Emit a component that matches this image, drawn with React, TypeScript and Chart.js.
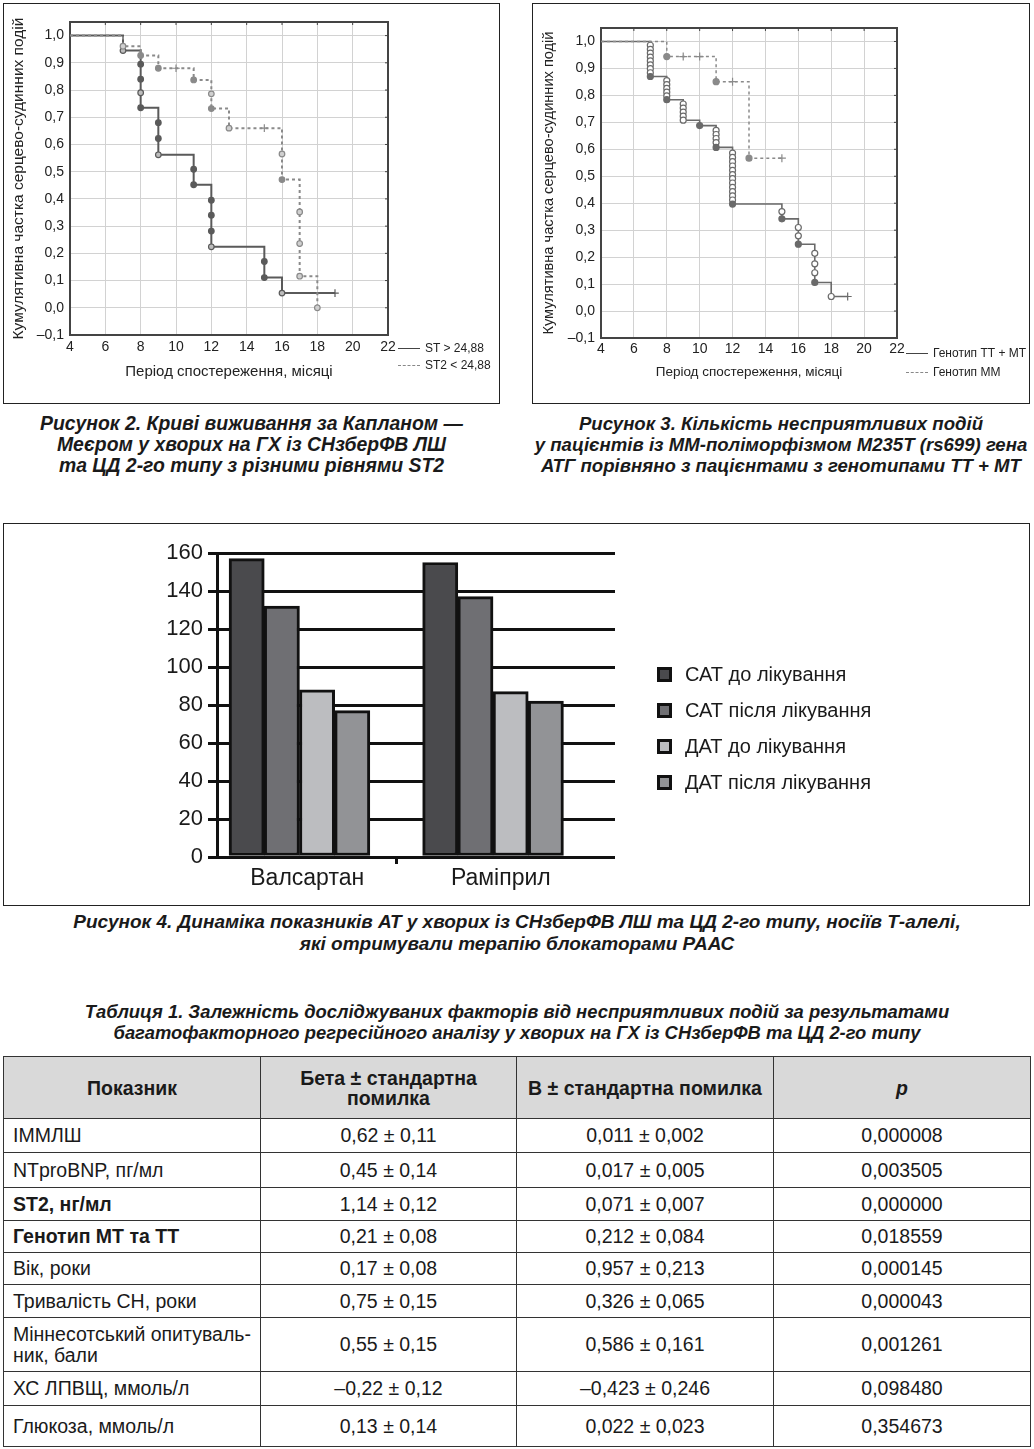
import React, { useEffect, useRef } from 'react';
import { Chart, registerables } from 'chart.js';

Chart.register(...registerables);

const FONT = '"Liberation Sans", Arial, Helvetica, sans-serif';

// ---------------- Figure 2 data ----------------
const kmXTicks = [4, 6, 8, 10, 12, 14, 16, 18, 20, 22];
const kmYTicks = [-0.1, 0, 0.1, 0.2, 0.3, 0.4, 0.5, 0.6, 0.7, 0.8, 0.9, 1.0];
const kmYTitle = 'Кумулятивна частка серцево-судинних подій';
const kmXTitle = 'Період спостереження, місяці';

const fig2HighLabel = 'ST > 24,88';
const fig2HighTimes = [4, 7, 8, 8, 8, 8, 9, 9, 9, 11, 11, 12, 12, 12, 12, 15, 15, 16, 19];
const fig2HighSurv = [1.0, 0.945, 0.895, 0.84, 0.79, 0.735, 0.68, 0.622, 0.562, 0.509, 0.452, 0.395, 0.34, 0.282, 0.224, 0.17, 0.111, 0.054, 0.054];
const fig2HighMarks = ['', 'o', 'f', 'f', 'o', 'f', 'f', 'f', 'o', 'f', 'f', 'f', 'f', 'f', 'o', 'f', 'f', 'o', '+'];

const fig2LowLabel = 'ST2 < 24,88';
const fig2LowTimes = [4, 7, 8, 9, 10, 11, 12, 12, 13, 15, 16, 16, 17, 17, 17, 18];
const fig2LowSurv = [1.0, 0.961, 0.927, 0.88, 0.88, 0.837, 0.786, 0.732, 0.66, 0.66, 0.565, 0.471, 0.352, 0.236, 0.116, 0.0];
const fig2LowMarks = ['', 'o', 'f', 'f', '+', 'f', 'o', 'f', 'o', '+', 'o', 'f', 'o', 'o', 'o', 'o'];

// ---------------- Figure 3 data ----------------
const fig3TTLabel = 'Генотип ТТ + МТ';
const fig3TTTimes = [
  4,
  7, 7, 7, 7, 7, 7, 7, 7, 7,
  8, 8, 8, 8, 8, 8,
  9, 9, 9, 9, 9,
  10,
  11, 11, 11, 11, 11,
  12, 12, 12, 12, 12, 12, 12, 12, 12, 12, 12, 12, 12,
  15, 15,
  16, 16, 16,
  17, 17, 17, 17,
  18, 19,
];
const fig3TTSurv = [
  1.0,
  0.986, 0.971, 0.957, 0.942, 0.928, 0.913, 0.899, 0.884, 0.87,
  0.855, 0.84, 0.826, 0.812, 0.798, 0.784,
  0.768, 0.753, 0.738, 0.723, 0.708,
  0.688,
  0.67, 0.655, 0.64, 0.625, 0.607,
  0.586, 0.57, 0.554, 0.538, 0.522, 0.506, 0.491, 0.475, 0.459, 0.443, 0.427, 0.412, 0.397,
  0.369, 0.342,
  0.31, 0.279, 0.248,
  0.214, 0.175, 0.142, 0.106,
  0.054, 0.054,
];
const fig3TTMarks = [
  '',
  'o', 'o', 'o', 'o', 'o', 'o', 'o', 'o', 'f',
  'o', 'o', 'o', 'o', 'o', 'f',
  'o', 'o', 'o', 'o', 'o',
  'f',
  'o', 'o', 'o', 'o', 'f',
  'o', 'o', 'o', 'o', 'o', 'o', 'o', 'o', 'o', 'o', 'o', 'o', 'f',
  'o', 'f',
  'o', 'o', 'f',
  'o', 'o', 'o', 'f',
  'o', '+',
];

const fig3MMLabel = 'Генотип ММ';
const fig3MMTimes = [4, 8, 9, 10, 11, 12, 13, 15];
const fig3MMSurv = [1.0, 0.944, 0.944, 0.944, 0.851, 0.851, 0.567, 0.567];
const fig3MMMarks = ['', 'f', '+', '+', 'f', '+', 'f', '+'];

// ---------------- Figure 4 data ----------------
const barCategories = ['Валсартан', 'Раміприл'];
const barSeriesLabels = ['САТ до лікування', 'САТ після лікування', 'ДАТ до лікування', 'ДАТ після лікування'];
const sbpBefore = [157, 155];
const sbpAfter = [132, 137];
const dbpBefore = [88, 87];
const dbpAfter = [77, 82];
const barYTicks = [0, 20, 40, 60, 80, 100, 120, 140, 160];
const barColors = ['#4a4a4d', '#6f6f73', '#bcbdc0', '#929396'];

// ---------------- Table data ----------------
const tableHeader = ['Показник', 'Бета ± стандартна\nпомилка', 'B ± стандартна помилка', 'p'];
const tableFactors = ['ІММЛШ', 'NTproBNP, пг/мл', 'ST2, нг/мл', 'Генотип МТ та ТТ', 'Вік, роки', 'Тривалість СН, роки', 'Міннесотський опитуваль-\nник, бали', 'ХС ЛПВЩ, ммоль/л', 'Глюкоза, ммоль/л'];
const tableBeta = ['0,62 ± 0,11', '0,45 ± 0,14', '1,14 ± 0,12', '0,21 ± 0,08', '0,17 ± 0,08', '0,75 ± 0,15', '0,55 ± 0,15', '–0,22 ± 0,12', '0,13 ± 0,14'];
const tableB = ['0,011 ± 0,002', '0,017 ± 0,005', '0,071 ± 0,007', '0,212 ± 0,084', '0,957 ± 0,213', '0,326 ± 0,065', '0,586 ± 0,161', '–0,423 ± 0,246', '0,022 ± 0,023'];
const tableP = ['0,000008', '0,003505', '0,000000', '0,018559', '0,000145', '0,000043', '0,001261', '0,098480', '0,354673'];
const tableBold = [false, false, true, true, false, false, false, false, false];
const tableRowHeights = [34, 35, 33, 32, 32, 33, 54, 34, 41];

// ---------------- KM chart ----------------
type KMSeries = { times: number[]; surv: number[]; marks: string[]; color: string; width: number; dash: number[]; hollow: string; radius: number };
type KMSpec = {
  w: number; h: number; series: KMSeries[];
  yWidth: number; xHeight: number; padTop: number; padRight: number;
  tickSize: number; yTitleSize: number; xTitleSize: number; yTitlePad: number; xTitlePad: number; xTickPad: number;
};

const kmFrame = {
  id: 'kmFrame',
  beforeDatasetsDraw(chart: any) {
    const { ctx, chartArea: a, scales } = chart;
    ctx.save();
    ctx.strokeStyle = '#444';
    ctx.lineWidth = 1;
    scales.x.ticks.forEach((t: any) => {
      const p = scales.x.getPixelForValue(t.value);
      ctx.beginPath(); ctx.moveTo(p, a.top); ctx.lineTo(p, a.top + 3); ctx.stroke();
    });
    scales.y.ticks.forEach((t: any) => {
      const p = scales.y.getPixelForValue(t.value);
      ctx.beginPath(); ctx.moveTo(a.right, p); ctx.lineTo(a.right - 3, p); ctx.stroke();
    });
    ctx.lineWidth = 2;
    ctx.strokeRect(a.left, a.top, a.right - a.left, a.bottom - a.top);
    ctx.restore();
  },
};

function fmtY(v: number) {
  if (Math.abs(v) < 1e-9) return '0,0';
  return (v < 0 ? '–' : '') + Math.abs(v).toFixed(1).replace('.', ',');
}

function KMChart({ spec, style }: { spec: KMSpec; style: React.CSSProperties }) {
  const ref = useRef<HTMLCanvasElement>(null);
  useEffect(() => {
    const datasets = spec.series.map((s) => ({
      data: s.times.map((t, i) => ({ x: t, y: s.surv[i] })),
      stepped: true,
      fill: false,
      borderColor: s.color,
      borderWidth: s.width,
      borderDash: s.dash,
      pointStyle: s.marks.map((m) => (m === '+' ? 'cross' : 'circle')),
      pointRadius: s.marks.map((m) => (m === '' ? 0 : m === '+' ? s.radius + 1 : s.radius)),
      pointBackgroundColor: s.marks.map((m) => (m === 'f' ? s.color : s.hollow)),
      pointBorderColor: s.color,
      pointBorderWidth: 1.2,
    }));
    const chart = new Chart(ref.current!, {
      type: 'line',
      data: { datasets },
      plugins: [kmFrame],
      options: {
        animation: false,
        responsive: false,
        maintainAspectRatio: false,
        layout: { padding: { left: 0, top: spec.padTop, right: spec.padRight, bottom: 0 } },
        plugins: { legend: { display: false }, tooltip: { enabled: false } },
        scales: {
          x: {
            type: 'linear', min: 4, max: 22,
            afterBuildTicks: (s: any) => { s.ticks = kmXTicks.map((v) => ({ value: v })); },
            afterFit: (s: any) => { s.height = spec.xHeight; },
            ticks: { color: '#222', font: { family: FONT, size: spec.tickSize }, padding: spec.xTickPad, maxRotation: 0 },
            grid: { color: '#d2d2d2', lineWidth: 1, drawTicks: false },
            border: { display: false },
            title: { display: true, text: kmXTitle, color: '#222', font: { family: FONT, size: spec.xTitleSize }, padding: { top: 0, bottom: spec.xTitlePad } },
          },
          y: {
            type: 'linear', min: -0.1, max: 1.05,
            afterBuildTicks: (s: any) => { s.ticks = kmYTicks.map((v) => ({ value: v })); },
            afterFit: (s: any) => { s.width = spec.yWidth; },
            ticks: { color: '#222', font: { family: FONT, size: spec.tickSize }, padding: 6, callback: (v: any) => fmtY(Number(v)) },
            grid: { color: '#d2d2d2', lineWidth: 1, drawTicks: false },
            border: { display: false },
            title: { display: true, text: kmYTitle, color: '#222', font: { family: FONT, size: spec.yTitleSize }, padding: { top: spec.yTitlePad, bottom: 0 } },
          },
        },
      } as any,
    });
    return () => chart.destroy();
  }, []);
  return <canvas ref={ref} width={spec.w} height={spec.h} style={{ position: 'absolute', width: spec.w, height: spec.h, ...style }} />;
}

const fig2Spec: KMSpec = {
  w: 493, h: 396,
  series: [
    { times: fig2LowTimes, surv: fig2LowSurv, marks: fig2LowMarks, color: '#8a8a8a', width: 2, dash: [3, 3], hollow: '#d0d0d0', radius: 2.8 },
    { times: fig2HighTimes, surv: fig2HighSurv, marks: fig2HighMarks, color: '#5a5a5a', width: 2, dash: [], hollow: '#bdbdbd', radius: 2.8 },
  ],
  yWidth: 65, xHeight: 66, padTop: 17, padRight: 110,
  tickSize: 14, yTitleSize: 15.5, xTitleSize: 15, yTitlePad: 4, xTitlePad: 20, xTickPad: 4,
};

const fig3Spec: KMSpec = {
  w: 494, h: 396,
  series: [
    { times: fig3MMTimes, surv: fig3MMSurv, marks: fig3MMMarks, color: '#8a8a8a', width: 1.5, dash: [3, 3], hollow: '#ffffff', radius: 3 },
    { times: fig3TTTimes, surv: fig3TTSurv, marks: fig3TTMarks, color: '#6a6a6a', width: 1.6, dash: [], hollow: '#ffffff', radius: 3 },
  ],
  yWidth: 67, xHeight: 63, padTop: 23, padRight: 131,
  tickSize: 14, yTitleSize: 14.6, xTitleSize: 13.5, yTitlePad: 6, xTitlePad: 21, xTickPad: 3,
};

// ---------------- Bar chart ----------------
// x axis: each category is placed at its index on a linear scale
const barXMin = -0.426;
const barXMax = 1.63;
const barLabelShift = 0.04;

function BarChart() {
  const ref = useRef<HTMLCanvasElement>(null);
  useEffect(() => {
    const values = [sbpBefore, sbpAfter, dbpBefore, dbpAfter];
    const tickDefs = [
      { value: 0 + barLabelShift, label: barCategories[0], mark: false },
      { value: 0.5, label: '', mark: true },
      { value: 1 + barLabelShift, label: barCategories[1], mark: false },
    ];
    const chart = new Chart(ref.current!, {
      type: 'bar',
      data: {
        datasets: values.map((d, i) => ({
          label: barSeriesLabels[i],
          data: d.map((v, c) => ({ x: c, y: v })),
          backgroundColor: barColors[i],
          borderColor: '#111',
          borderWidth: 3,
          borderSkipped: false,
          barThickness: 35.2,
        })),
      },
      options: {
        animation: false,
        responsive: false,
        maintainAspectRatio: false,
        layout: { padding: { left: 152, top: 28, right: 413, bottom: 0 } },
        plugins: { legend: { display: false }, tooltip: { enabled: false } },
        scales: {
          x: {
            type: 'linear', min: barXMin, max: barXMax, offset: false,
            afterBuildTicks: (s: any) => { s.ticks = tickDefs.map((t) => ({ value: t.value })); },
            afterFit: (s: any) => { s.height = 46; },
            ticks: { color: '#1a1a1a', font: { family: FONT, size: 23 }, padding: 1, maxRotation: 0, autoSkip: false, callback: (_v: any, i: number) => tickDefs[i].label },
            grid: {
              offset: false, drawOnChartArea: false, drawTicks: true, tickLength: 7, lineWidth: 3,
              color: (c: any) => (tickDefs[c.index] && tickDefs[c.index].mark ? '#111' : 'rgba(0,0,0,0)'),
            },
            border: { display: false },
          },
          y: {
            min: 0, max: 160,
            afterBuildTicks: (s: any) => { s.ticks = barYTicks.map((v) => ({ value: v })); },
            afterFit: (s: any) => { s.width = 60; },
            ticks: { color: '#1a1a1a', font: { family: FONT, size: 22 }, padding: 5 },
            grid: { color: '#111', lineWidth: 3, tickLength: 9, drawTicks: true },
            border: { display: true, color: '#111', width: 3 },
          },
        },
      } as any,
    });
    return () => chart.destroy();
  }, []);
  return <canvas ref={ref} width={1023} height={378} style={{ position: 'absolute', left: 5, top: 525, width: 1023, height: 378 }} />;
}

// ---------------- Page ----------------
const captionStyle: React.CSSProperties = {
  position: 'absolute', textAlign: 'center', fontFamily: FONT, fontWeight: 'bold', fontStyle: 'italic',
  fontSize: 19, lineHeight: '21px', color: '#1a1a1a', whiteSpace: 'nowrap',
};

function KMLegend({ left, top, rows, size }: { left: number; top: number; rows: { label: string; dashed: boolean; y: number }[]; size: number }) {
  return (
    <>
      {rows.map((r, i) => (
        <div key={i} style={{ position: 'absolute', left, top: top + r.y - 8, height: 16, display: 'flex', alignItems: 'center', fontFamily: FONT, fontSize: size, color: '#222' }}>
          <div style={{ width: 22, height: 0, borderTop: r.dashed ? '1.5px dashed #888' : '1.5px solid #444', marginRight: 5 }} />
          <span>{r.label}</span>
        </div>
      ))}
    </>
  );
}

export default function App() {
  const cell: React.CSSProperties = { border: '1px solid #333', fontFamily: FONT, fontSize: 19.5, color: '#1a1a1a', padding: '0 8px' };
  return (
    <div style={{ position: 'absolute', left: 0, top: 0, width: 1034, height: 1449, background: '#fff', overflow: 'hidden' }}>
      {/* Figure 2 */}
      <div style={{ position: 'absolute', left: 3, top: 3, width: 497, height: 401, border: '1.5px solid #222', boxSizing: 'border-box' }} />
      <KMChart spec={fig2Spec} style={{ left: 5, top: 5 }} />
      <KMLegend left={398} top={0} size={12} rows={[{ label: fig2HighLabel, dashed: false, y: 348 }, { label: fig2LowLabel, dashed: true, y: 365 }]} />
      <div style={{ ...captionStyle, left: 3, top: 413, width: 497, fontSize: 19.4 }}>
        Рисунок 2. Криві виживання за Капланом —<br />Меєром у хворих на ГХ із СНзберФВ ЛШ<br />та ЦД 2-го типу з різними рівнями ST2
      </div>

      {/* Figure 3 */}
      <div style={{ position: 'absolute', left: 532, top: 3, width: 498, height: 401, border: '1.5px solid #222', boxSizing: 'border-box' }} />
      <KMChart spec={fig3Spec} style={{ left: 534, top: 5 }} />
      <KMLegend left={906} top={0} size={12} rows={[{ label: fig3TTLabel, dashed: false, y: 353 }, { label: fig3MMLabel, dashed: true, y: 372 }]} />
      <div style={{ ...captionStyle, left: 532, top: 413, width: 498, fontSize: 18.6 }}>
        Рисунок 3. Кількість несприятливих подій<br />у пацієнтів із ММ-поліморфізмом M235T (rs699) гена<br />АТГ порівняно з пацієнтами з генотипами ТТ + МТ
      </div>

      {/* Figure 4 */}
      <div style={{ position: 'absolute', left: 3, top: 523, width: 1027, height: 383, border: '1.5px solid #222', boxSizing: 'border-box' }} />
      <BarChart />
      {barSeriesLabels.map((l, i) => (
        <div key={l} style={{ position: 'absolute', left: 657, top: 674 + i * 36 - 11, height: 22, display: 'flex', alignItems: 'center', fontFamily: FONT, fontSize: 20, color: '#1a1a1a' }}>
          <div style={{ width: 15, height: 15, boxSizing: 'border-box', border: '3px solid #111', background: barColors[i], marginRight: 13 }} />
          <span>{l}</span>
        </div>
      ))}
      <div style={{ ...captionStyle, left: 0, top: 911, width: 1034, lineHeight: '22px' }}>
        Рисунок 4. Динаміка показників АТ у хворих із СНзберФВ ЛШ та ЦД 2-го типу, носіїв Т-алелі,<br />які отримували терапію блокаторами РААС
      </div>

      {/* Table */}
      <div style={{ ...captionStyle, left: 0, top: 1001, width: 1034, fontSize: 18.4 }}>
        Таблиця 1. Залежність досліджуваних факторів від несприятливих подій за результатами<br />багатофакторного регресійного аналізу у хворих на ГХ із СНзберФВ та ЦД 2-го типу
      </div>
      <table style={{ position: 'absolute', left: 3, top: 1056, width: 1027, borderCollapse: 'collapse', tableLayout: 'fixed' }}>
        <colgroup>
          <col style={{ width: 257 }} />
          <col style={{ width: 256 }} />
          <col style={{ width: 257 }} />
          <col style={{ width: 257 }} />
        </colgroup>
        <tbody>
          <tr style={{ height: 62, background: '#d9d9d9' }}>
            {tableHeader.map((h, i) => (
              <td key={i} style={{ ...cell, fontWeight: 'bold', textAlign: 'center', lineHeight: '20px', padding: '0 4px', whiteSpace: 'pre-line', fontStyle: i === 3 ? 'italic' : 'normal' }}>{h}</td>
            ))}
          </tr>
          {tableFactors.map((f, r) => (
            <tr key={r} style={{ height: tableRowHeights[r] }}>
              <td style={{ ...cell, textAlign: 'left', fontWeight: tableBold[r] ? 'bold' : 'normal', lineHeight: '21px', whiteSpace: 'pre-line', padding: '0 9px' }}>{f}</td>
              <td style={{ ...cell, textAlign: 'center' }}>{tableBeta[r]}</td>
              <td style={{ ...cell, textAlign: 'center' }}>{tableB[r]}</td>
              <td style={{ ...cell, textAlign: 'center' }}>{tableP[r]}</td>
            </tr>
          ))}
        </tbody>
      </table>
    </div>
  );
}
